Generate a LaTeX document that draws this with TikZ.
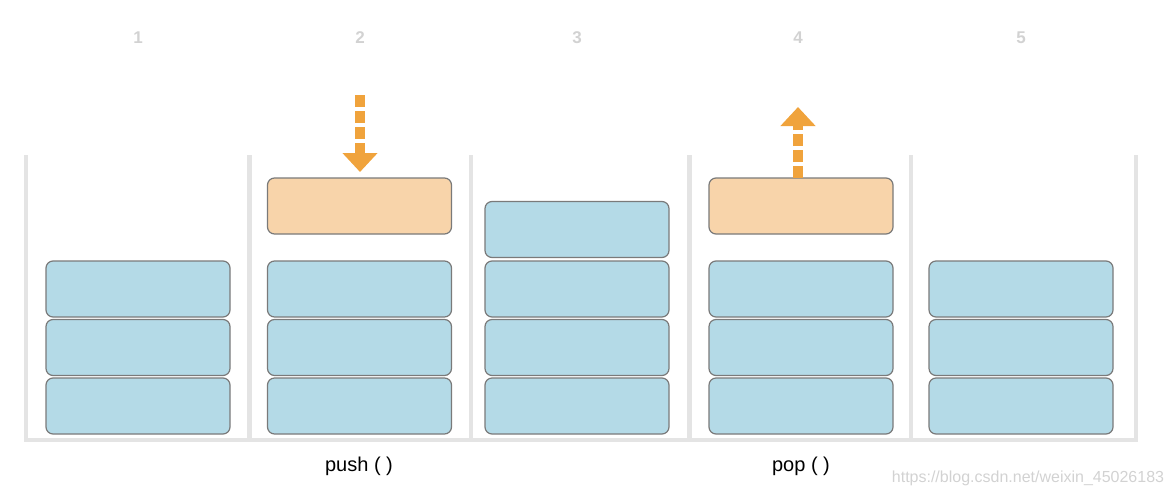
\documentclass[tikz,border=0pt]{standalone}
\usepackage{fontspec}
\setmainfont{Liberation Sans}
\usetikzlibrary{arrows.meta}
\definecolor{wallc}{HTML}{E4E4E4}
\definecolor{bluec}{HTML}{B4DAE7}
\definecolor{orangec}{HTML}{F8D4AA}
\definecolor{arrowc}{HTML}{F0A33C}
\definecolor{edgec}{HTML}{7A7A7A}
\definecolor{numc}{HTML}{D2D2D2}
\tikzset{
  block/.style={draw=edgec, line width=1.2pt, rounded corners=7pt, minimum width=184pt, minimum height=56pt, inner sep=0pt},
  blue block/.style={block, fill=bluec},
  orange block/.style={block, fill=orangec},
  wall/.style={draw=wallc, line width=4.5pt},
  num/.style={text=numc, font=\fontsize{17}{20}\selectfont\bfseries},
  oplabel/.style={font=\fontsize{20}{24}\selectfont, text=black},
  flow/.style={draw=arrowc, line width=10pt, dash pattern=on 12pt off 4pt, -{Triangle[width=34pt,length=19pt]}}
}
\begin{document}
\begin{tikzpicture}[x=1pt,y=-1pt]
\useasboundingbox (0,0) rectangle (1172,496);
% container
\draw[wall] (26,155) -- (26,440) -- (1136,440) -- (1136,155);
\foreach \x in {249.5,471,689.5,911}{\draw[wall] (\x,155) -- (\x,440);}
% numbers
\node[num] (n1) at (138,38) {1};
\node[num] (n2) at (360,38) {2};
\node[num] (n3) at (577,38) {3};
\node[num] (n4) at (798,38) {4};
\node[num] (n5) at (1021,38) {5};
% column 1
\node[blue block] (a1) at (138,289) {};
\node[blue block] (a2) at (138,347.5) {};
\node[blue block] (a3) at (138,406) {};
% column 2
\node[orange block] (b0) at (359.5,206) {};
\node[blue block] (b1) at (359.5,289) {};
\node[blue block] (b2) at (359.5,347.5) {};
\node[blue block] (b3) at (359.5,406) {};
% column 3
\node[blue block] (c0) at (577,229.5) {};
\node[blue block] (c1) at (577,289) {};
\node[blue block] (c2) at (577,347.5) {};
\node[blue block] (c3) at (577,406) {};
% column 4
\node[orange block] (d0) at (801,206) {};
\node[blue block] (d1) at (801,289) {};
\node[blue block] (d2) at (801,347.5) {};
\node[blue block] (d3) at (801,406) {};
% column 5
\node[blue block] (e1) at (1021,289) {};
\node[blue block] (e2) at (1021,347.5) {};
\node[blue block] (e3) at (1021,406) {};
% arrows
\coordinate (pushstart) at (360,95);
\coordinate (pushend) at (360,172);
\draw[flow] (pushstart) -- (pushend);
\coordinate (popstart) at (798,178);
\coordinate (popend) at (798,107);
\draw[flow] (popstart) -- (popend);
% labels
\node[oplabel] (push) at (359,466) {push ( )};
\node[oplabel] (pop) at (801,466) {pop ( )};
\node[text=numc, font=\fontsize{16}{19}\selectfont] (wm) at (1028,478) {https://blog.csdn.net/weixin\_45026183};
\end{tikzpicture}
\end{document}
